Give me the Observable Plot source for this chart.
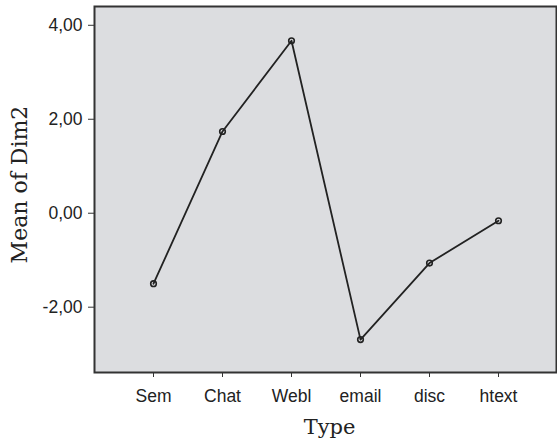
<!DOCTYPE html>
<html>
<head>
<meta charset="utf-8">
<script src="https://cdn.jsdelivr.net/npm/d3@7"></script>
<script src="https://cdn.jsdelivr.net/npm/@observablehq/plot@0.6"></script>
<style>
  html, body { margin: 0; padding: 0; background: #fff; }
  #chart svg { display: block; }
</style>
</head>
<body>
<div id="chart"></div>
<script>
const types = ["Sem", "Chat", "Webl", "email", "disc", "htext"];
const meanDim2 = [-1.50, 1.74, 3.67, -2.69, -1.06, -0.16];
const yTicks = [-2, 0, 2, 4];

const data = types.map((t, i) => ({type: t, value: meanDim2[i]}));
const fmt = d => d.toFixed(2).replace(".", ",");
const serif = "'DejaVu Serif', 'Liberation Serif', serif";

const chart = Plot.plot({
  width: 557,
  height: 442,
  marginLeft: 94,
  marginRight: 1,
  marginTop: 6,
  marginBottom: 70,
  style: {background: "#fff", color: "#222", fontFamily: "'Liberation Sans', Arial, sans-serif", fontSize: "17.5px"},
  x: {type: "point", domain: types, padding: 0.83, label: null},
  y: {domain: [-3.39, 4.40], label: null},
  marks: [
    Plot.frame({fill: "#dcdde0", stroke: "#333", strokeWidth: 2}),
    Plot.axisX({tickSize: 5, tickPadding: 12, fontSize: 17.5, stroke: "#333"}),
    Plot.axisY({ticks: yTicks, tickFormat: fmt, tickSize: 6, tickPadding: 6, fontSize: 17.5, stroke: "#333"}),
    Plot.line(data, {x: "type", y: "value", stroke: "#222", strokeWidth: 1.8}),
    Plot.dot(data, {x: "type", y: "value", r: 2.8, stroke: "#222", strokeWidth: 1.6, fill: "none"}),
    Plot.text(["Mean of Dim2"], {frameAnchor: "left", textAnchor: "middle", dx: -75, dy: -5, rotate: -90, fontFamily: serif, fontSize: 22, fill: "#222"}),
    Plot.text(["Type"], {frameAnchor: "bottom", dx: 4, dy: 61, fontFamily: serif, fontSize: 21, fill: "#222"})
  ]
});
document.getElementById("chart").appendChild(chart);
</script>
</body>
</html>
